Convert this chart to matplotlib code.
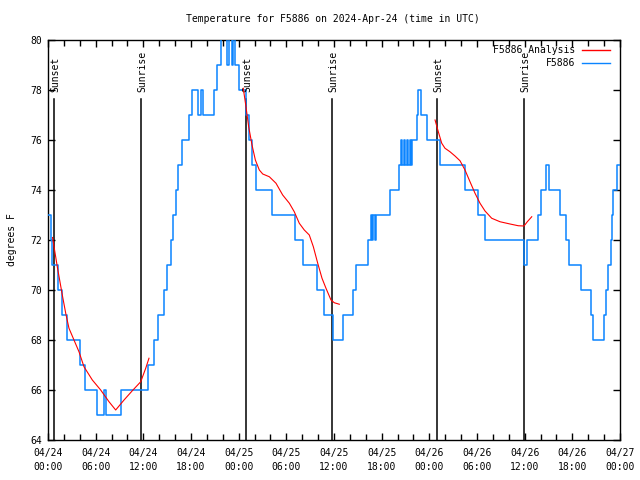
import matplotlib
matplotlib.use("Agg")
import matplotlib.pyplot as plt
from matplotlib.ticker import MultipleLocator

# ---- data (hours since 2024-04-24 00:00 UTC) ----
obs_hours = [0.00, 0.34, 0.50, 1.26, 1.76, 2.45, 3.97, 4.72, 6.23, 6.99, 7.30, 9.25,
             12.65, 13.34, 13.85, 14.60, 15.02, 15.52, 15.77, 16.07, 16.40, 16.91, 17.75,
             18.09, 18.82, 19.26, 19.51, 20.90, 21.31, 21.74, 22.47, 22.78, 23.10, 23.29,
             23.54, 24.04, 24.92, 25.24, 25.68, 26.18, 28.20, 31.09, 32.16, 33.92, 34.68,
             35.88, 37.13, 38.33, 38.83, 40.28, 40.66, 40.79, 40.97, 41.10, 41.29, 43.11,
             44.18, 44.44, 44.56, 44.81, 45.00, 45.19, 45.32, 45.57, 45.69, 45.88, 46.45,
             46.61, 46.89, 47.71, 49.35, 52.43, 54.13, 54.95, 59.89, 60.30, 61.68, 62.02,
             62.69, 63.07, 64.51, 65.21, 65.58, 67.03, 68.29, 68.60, 69.99, 70.30, 70.53,
             70.81, 70.96, 71.08, 71.66, 72.00]
obs_temps = [73, 72, 71, 70, 69, 68, 67, 66, 65, 66, 65, 66,
             67, 68, 69, 70, 71, 72, 73, 74, 75, 76, 77,
             78, 77, 78, 77, 78, 79, 81, 79, 81, 79, 81,
             79, 78, 77, 76, 75, 74, 73, 72, 71, 70, 69,
             68, 69, 70, 71, 72, 73, 72, 73, 72, 73, 74,
             75, 76, 75, 76, 75, 76, 75, 76, 75, 76, 77,
             78, 77, 76, 75, 74, 73, 72, 71, 72, 73, 74,
             75, 74, 73, 72, 71, 70, 69, 68, 69, 70, 71,
             72, 73, 74, 75, 75]

ana1_hours = [0.57, 1.17, 1.80, 2.23, 2.64, 3.27, 3.90, 4.53, 5.58, 6.63, 7.68, 8.52,
              9.57, 10.61, 11.67, 12.30, 12.71]
ana1_temps = [72.1, 70.93, 69.8, 69.07, 68.47, 68.0, 67.53, 66.93, 66.4, 66.0, 65.53, 65.2,
              65.6, 65.97, 66.33, 66.87, 67.27]
ana2_hours = [24.58, 24.92, 25.26, 25.68, 26.10, 26.60, 27.03, 27.86, 28.70, 29.54, 30.38,
              31.00, 31.63, 32.26, 32.89, 33.40, 33.95, 34.49, 34.99, 35.62, 36.04, 36.67]
ana2_temps = [78.07, 77.33, 76.53, 75.8, 75.2, 74.8, 74.64, 74.53, 74.27, 73.8, 73.47,
              73.13, 72.67, 72.4, 72.2, 71.73, 71.07, 70.47, 70.07, 69.6, 69.49, 69.43]
ana3_hours = [48.72, 49.13, 49.56, 49.97, 50.60, 51.23, 51.86, 52.49, 53.12, 53.75, 54.38,
              55.01, 55.85, 56.90, 58.16, 59.20, 59.92, 60.33, 60.89]
ana3_temps = [76.8, 76.33, 75.87, 75.67, 75.53, 75.36, 75.17, 74.8, 74.33, 73.87, 73.47,
              73.16, 72.87, 72.73, 72.64, 72.57, 72.56, 72.73, 72.93]

sunset_hours = [0.75, 24.92, 48.97]
sunrise_hours = [11.70, 35.75, 59.90]

xtick_hours = [0, 6, 12, 18, 24, 30, 36, 42, 48, 54, 60, 66, 72]
xtick_labels = ["04/24\n00:00", "04/24\n06:00", "04/24\n12:00", "04/24\n18:00",
                "04/25\n00:00", "04/25\n06:00", "04/25\n12:00", "04/25\n18:00",
                "04/26\n00:00", "04/26\n06:00", "04/26\n12:00", "04/26\n18:00",
                "04/27\n00:00"]
ytick_values = [64, 66, 68, 70, 72, 74, 76, 78, 80]

title = "Temperature for F5886 on 2024-Apr-24 (time in UTC)"
legend_labels = ["F5886 Analysis", "F5886"]

# ---- styling ----
FONT = "DejaVu Sans Mono"
FS = 7
BLUE = "#0a84ff"
RED = "#ff0000"

plt.rcParams["font.family"] = FONT
fig = plt.figure(figsize=(6.4, 4.8), dpi=100)
ax = fig.add_axes([48 / 640, 40 / 480, 572 / 640, 400 / 480])

ax.plot(obs_hours, obs_temps, drawstyle="steps-post", color=BLUE, lw=1.1, zorder=3)
for h, t in [(ana1_hours, ana1_temps), (ana2_hours, ana2_temps), (ana3_hours, ana3_temps)]:
    ax.plot(h, t, color=RED, lw=0.8, zorder=4)

line_top = 77.62
for h in sunset_hours:
    ax.plot([h, h], [64, line_top], color="black", lw=1.1, zorder=2)
    ax.text(h + 0.15, line_top + 0.3, "Sunset", rotation=90, ha="center", va="bottom",
            fontsize=FS, family=FONT)
for h in sunrise_hours:
    ax.plot([h, h], [64, line_top], color="black", lw=1.1, zorder=2)
    ax.text(h + 0.15, line_top + 0.3, "Sunrise", rotation=90, ha="center", va="bottom",
            fontsize=FS, family=FONT)

ax.set_xlim(0, 72)
ax.set_ylim(64, 80)
ax.set_xticks(xtick_hours)
ax.set_xticklabels(xtick_labels, fontsize=FS, family=FONT, linespacing=1.5)
ax.xaxis.set_minor_locator(MultipleLocator(2))
ax.set_yticks(ytick_values)
ax.set_yticklabels([str(v) for v in ytick_values], fontsize=FS, family=FONT)
ax.tick_params(axis="both", which="both", direction="in", top=True, right=True,
               width=1, color="black")
ax.tick_params(axis="both", which="major", length=5)
ax.tick_params(axis="both", which="minor", length=4)
ax.tick_params(axis="x", which="major", pad=6)
ax.tick_params(axis="y", which="major", pad=4)
for s in ax.spines.values():
    s.set_linewidth(1.0)

ax.set_ylabel("degrees F", fontsize=FS, family=FONT, labelpad=10)
fig.text(333 / 640, 1 - 19 / 480, title, ha="center", va="center", fontsize=FS, family=FONT)

# legend (gnuplot style: right-aligned text, then sample line)
for i, (lab, col) in enumerate(zip(legend_labels, [RED, BLUE])):
    y = 0.975 - i * 0.0325
    ax.text(0.921, y, lab, transform=ax.transAxes, ha="right", va="center",
            fontsize=FS, family=FONT, zorder=5)
    ax.plot([0.934, 0.983], [y, y], transform=ax.transAxes, color=col, lw=1.0,
            clip_on=False, zorder=5)

fig.savefig("out.png", dpi=100)
